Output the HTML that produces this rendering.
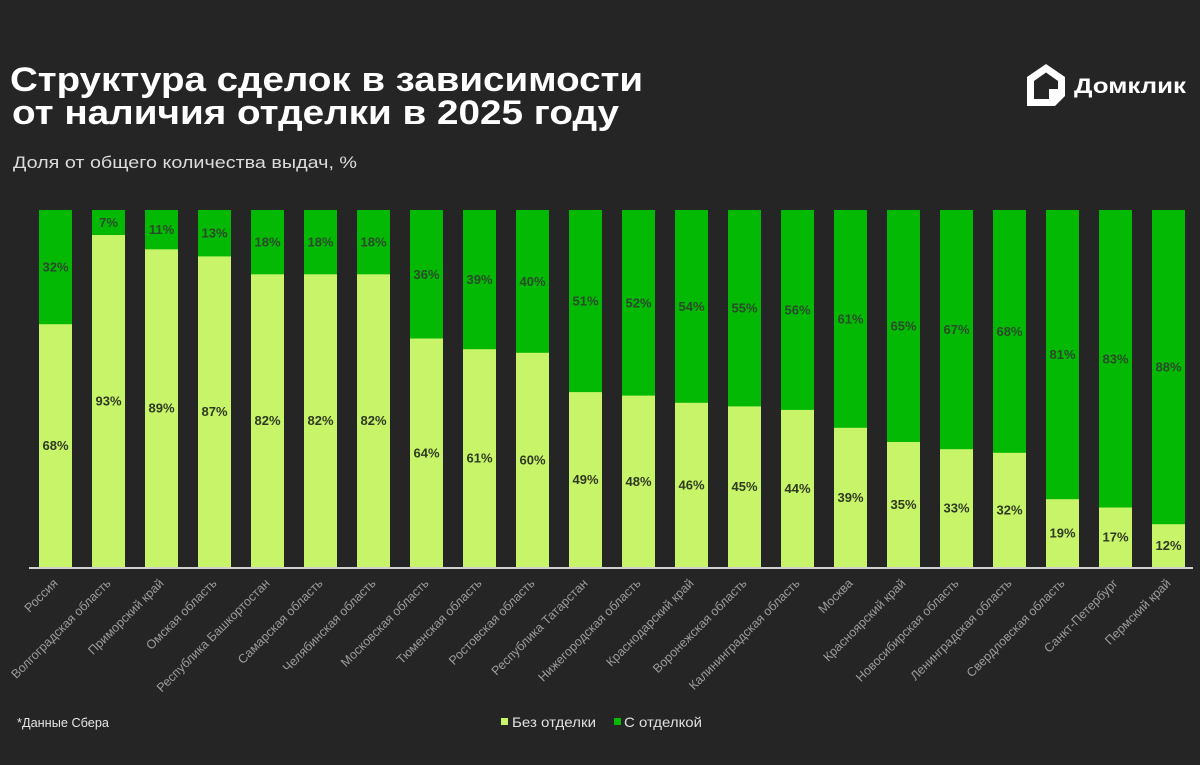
<!DOCTYPE html>
<html><head><meta charset="utf-8"><style>
html,body{margin:0;padding:0;background:#252525;}
svg{display:block;}
text{font-family:"Liberation Sans",sans-serif;}
</style></head><body>
<svg width="1200" height="765" viewBox="0 0 1200 765" xmlns="http://www.w3.org/2000/svg">
<rect width="1200" height="765" fill="#252525"/>
<text x="10" y="91" font-size="34" font-weight="bold" fill="#ffffff" textLength="633" lengthAdjust="spacingAndGlyphs">Структура сделок в зависимости</text>
<text x="12" y="124" font-size="34" font-weight="bold" fill="#ffffff" textLength="607" lengthAdjust="spacingAndGlyphs">от наличия отделки в 2025 году</text>
<text x="13" y="168" font-size="17" fill="#dcdcdc" textLength="344" lengthAdjust="spacingAndGlyphs">Доля от общего количества выдач, %</text>
<path d="M1027,77 L1046,64 L1065,77 L1065,96 L1055,106 L1027,106 Z" fill="#ffffff"/>
<path d="M1034,81 L1046,72.5 L1058,81 L1058,89 L1049,89 L1049,99 L1034,99 Z" fill="#252525"/>
<text x="1074" y="93" font-size="21" font-weight="bold" fill="#ffffff" textLength="112" lengthAdjust="spacingAndGlyphs">Домклик</text>
<g id="bars">
<rect x="39" y="210" width="33" height="357" fill="#03b903"/><rect x="39" y="324.2" width="33" height="242.8" fill="#c8f46a"/>
<rect x="92" y="210" width="33" height="357" fill="#03b903"/><rect x="92" y="235" width="33" height="332" fill="#c8f46a"/>
<rect x="145" y="210" width="33" height="357" fill="#03b903"/><rect x="145" y="249.3" width="33" height="317.7" fill="#c8f46a"/>
<rect x="198" y="210" width="33" height="357" fill="#03b903"/><rect x="198" y="256.4" width="33" height="310.6" fill="#c8f46a"/>
<rect x="251" y="210" width="33" height="357" fill="#03b903"/><rect x="251" y="274.3" width="33" height="292.7" fill="#c8f46a"/>
<rect x="304" y="210" width="33" height="357" fill="#03b903"/><rect x="304" y="274.3" width="33" height="292.7" fill="#c8f46a"/>
<rect x="357" y="210" width="33" height="357" fill="#03b903"/><rect x="357" y="274.3" width="33" height="292.7" fill="#c8f46a"/>
<rect x="410" y="210" width="33" height="357" fill="#03b903"/><rect x="410" y="338.5" width="33" height="228.5" fill="#c8f46a"/>
<rect x="463" y="210" width="33" height="357" fill="#03b903"/><rect x="463" y="349.2" width="33" height="217.8" fill="#c8f46a"/>
<rect x="516" y="210" width="33" height="357" fill="#03b903"/><rect x="516" y="352.8" width="33" height="214.2" fill="#c8f46a"/>
<rect x="569" y="210" width="33" height="357" fill="#03b903"/><rect x="569" y="392.1" width="33" height="174.9" fill="#c8f46a"/>
<rect x="622" y="210" width="33" height="357" fill="#03b903"/><rect x="622" y="395.6" width="33" height="171.4" fill="#c8f46a"/>
<rect x="675" y="210" width="33" height="357" fill="#03b903"/><rect x="675" y="402.8" width="33" height="164.2" fill="#c8f46a"/>
<rect x="728" y="210" width="33" height="357" fill="#03b903"/><rect x="728" y="406.4" width="33" height="160.6" fill="#c8f46a"/>
<rect x="781" y="210" width="33" height="357" fill="#03b903"/><rect x="781" y="409.9" width="33" height="157.1" fill="#c8f46a"/>
<rect x="834" y="210" width="33" height="357" fill="#03b903"/><rect x="834" y="427.8" width="33" height="139.2" fill="#c8f46a"/>
<rect x="887" y="210" width="33" height="357" fill="#03b903"/><rect x="887" y="442" width="33" height="125" fill="#c8f46a"/>
<rect x="940" y="210" width="33" height="357" fill="#03b903"/><rect x="940" y="449.2" width="33" height="117.8" fill="#c8f46a"/>
<rect x="993" y="210" width="33" height="357" fill="#03b903"/><rect x="993" y="452.8" width="33" height="114.2" fill="#c8f46a"/>
<rect x="1046" y="210" width="33" height="357" fill="#03b903"/><rect x="1046" y="499.2" width="33" height="67.8" fill="#c8f46a"/>
<rect x="1099" y="210" width="33" height="357" fill="#03b903"/><rect x="1099" y="507.5" width="33" height="59.5" fill="#c8f46a"/>
<rect x="1152" y="210" width="33" height="357" fill="#03b903"/><rect x="1152" y="524.2" width="33" height="42.8" fill="#c8f46a"/>
</g>
<line x1="29" y1="568" x2="1193" y2="568" stroke="#d0d0d0" stroke-width="2"/>
<g font-size="13" font-weight="bold" text-anchor="middle" dominant-baseline="central">
<g fill="#2b4a2b">
<text x="55.5" y="267.1">32%</text>
<text x="108.5" y="222.5">7%</text>
<text x="161.5" y="229.7">11%</text>
<text x="214.5" y="233.2">13%</text>
<text x="267.5" y="242.2">18%</text>
<text x="320.5" y="242.2">18%</text>
<text x="373.5" y="242.2">18%</text>
<text x="426.5" y="274.3">36%</text>
<text x="479.5" y="279.6">39%</text>
<text x="532.5" y="281.4">40%</text>
<text x="585.5" y="301.1">51%</text>
<text x="638.5" y="302.8">52%</text>
<text x="691.5" y="306.4">54%</text>
<text x="744.5" y="308.2">55%</text>
<text x="797.5" y="310">56%</text>
<text x="850.5" y="318.9">61%</text>
<text x="903.5" y="326">65%</text>
<text x="956.5" y="329.6">67%</text>
<text x="1009.5" y="331.4">68%</text>
<text x="1062.5" y="354.6">81%</text>
<text x="1115.5" y="358.8">83%</text>
<text x="1168.5" y="367.1">88%</text>
</g>
<g fill="#2f3a22">
<text x="55.5" y="445.6">68%</text>
<text x="108.5" y="401">93%</text>
<text x="161.5" y="408.2">89%</text>
<text x="214.5" y="411.7">87%</text>
<text x="267.5" y="420.7">82%</text>
<text x="320.5" y="420.7">82%</text>
<text x="373.5" y="420.7">82%</text>
<text x="426.5" y="452.8">64%</text>
<text x="479.5" y="458.1">61%</text>
<text x="532.5" y="459.9">60%</text>
<text x="585.5" y="479.6">49%</text>
<text x="638.5" y="481.3">48%</text>
<text x="691.5" y="484.9">46%</text>
<text x="744.5" y="486.7">45%</text>
<text x="797.5" y="488.5">44%</text>
<text x="850.5" y="497.4">39%</text>
<text x="903.5" y="504.5">35%</text>
<text x="956.5" y="508.1">33%</text>
<text x="1009.5" y="509.9">32%</text>
<text x="1062.5" y="533.1">19%</text>
<text x="1115.5" y="537.2">17%</text>
<text x="1168.5" y="545.6">12%</text>
</g>
</g>
<g font-size="12.5" fill="#9c9c9c" text-anchor="end">
<text transform="translate(58.5,584) rotate(-45)">Россия</text>
<text transform="translate(111.5,584) rotate(-45)">Волгоградская область</text>
<text transform="translate(164.5,584) rotate(-45)">Приморский край</text>
<text transform="translate(217.5,584) rotate(-45)">Омская область</text>
<text transform="translate(270.5,584) rotate(-45)">Республика Башкортостан</text>
<text transform="translate(323.5,584) rotate(-45)">Самарская область</text>
<text transform="translate(376.5,584) rotate(-45)">Челябинская область</text>
<text transform="translate(429.5,584) rotate(-45)">Московская область</text>
<text transform="translate(482.5,584) rotate(-45)">Тюменская область</text>
<text transform="translate(535.5,584) rotate(-45)">Ростовская область</text>
<text transform="translate(588.5,584) rotate(-45)">Республика Татарстан</text>
<text transform="translate(641.5,584) rotate(-45)">Нижегородская область</text>
<text transform="translate(694.5,584) rotate(-45)">Краснодарский край</text>
<text transform="translate(747.5,584) rotate(-45)">Воронежская область</text>
<text transform="translate(800.5,584) rotate(-45)">Калининградская область</text>
<text transform="translate(853.5,584) rotate(-45)">Москва</text>
<text transform="translate(906.5,584) rotate(-45)">Красноярский край</text>
<text transform="translate(959.5,584) rotate(-45)">Новосибирская область</text>
<text transform="translate(1012.5,584) rotate(-45)">Ленинградская область</text>
<text transform="translate(1065.5,584) rotate(-45)">Свердловская область</text>
<text transform="translate(1118.5,584) rotate(-45)">Санкт-Петербург</text>
<text transform="translate(1171.5,584) rotate(-45)">Пермский край</text>
</g>
<text x="17" y="727" font-size="13" fill="#e6e6e6" textLength="92" lengthAdjust="spacingAndGlyphs">*Данные Сбера</text>
<rect x="501" y="718" width="7" height="7" fill="#c8f46a"/>
<text x="512" y="727" font-size="14" fill="#e0e0e0" textLength="84" lengthAdjust="spacingAndGlyphs">Без отделки</text>
<rect x="614" y="718" width="7" height="7" fill="#03b903"/>
<text x="624" y="727" font-size="14" fill="#e0e0e0" textLength="78" lengthAdjust="spacingAndGlyphs">С отделкой</text>
</svg>
</body></html>
